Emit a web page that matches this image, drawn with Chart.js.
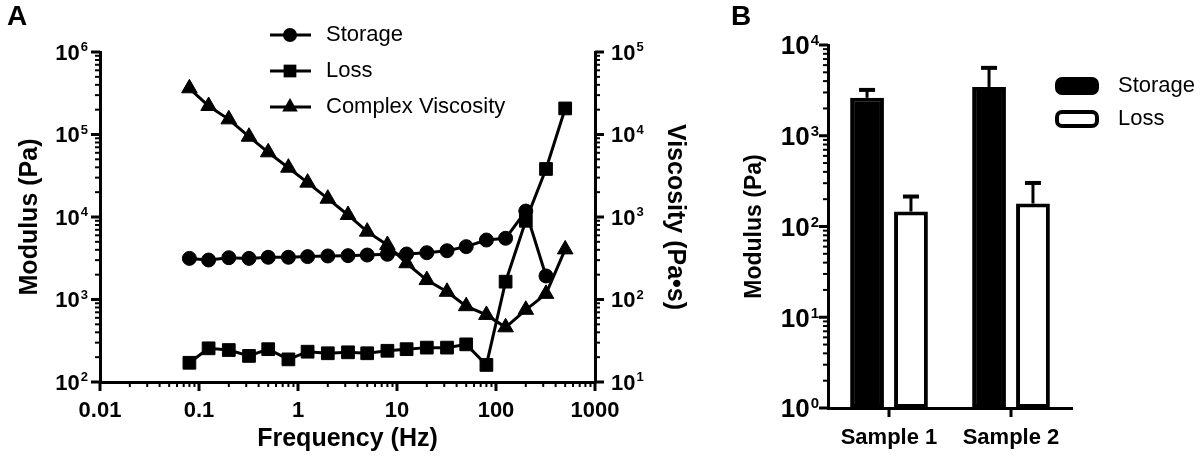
<!DOCTYPE html>
<html>
<head>
<meta charset="utf-8">
<script src="https://cdn.jsdelivr.net/npm/chart.js@4.4.0/dist/chart.umd.min.js"></script>
<style>
  body { margin: 0; background: #fff; width: 1200px; height: 457px; position: relative; overflow: hidden;
         font-family: 'Liberation Sans', Arial, Helvetica, sans-serif; }
  #wrapA { position: absolute; left: 0; top: 0; width: 720px; height: 457px; }
  #wrapB { position: absolute; left: 700px; top: 0; width: 500px; height: 457px; }
  .panel { position: absolute; font-weight: bold; font-size: 28px; line-height: 1; }
</style>
</head>
<body>
<div id="wrapA"><canvas id="chartA" width="720" height="457"></canvas></div>
<div id="wrapB"><canvas id="chartB" width="500" height="457"></canvas></div>
<div class="panel" style="left:7px; top:2px">A</div>
<div class="panel" style="left:731px; top:2px">B</div>
<script>
'use strict';

const FONT = "'Liberation Sans', Arial, Helvetica, sans-serif";

// Panel A - frequency sweep
const freqHz = [0.08, 0.125, 0.2, 0.32, 0.5, 0.8, 1.25, 2, 3.2, 5, 8, 12.5, 20, 32, 50, 80, 125, 200, 320, 500];
const storageModulus = [3150, 3010, 3210, 3150, 3250, 3250, 3310, 3370, 3400, 3460, 3530, 3560, 3690, 3900, 4370, 5260, 5520, 11800, 1930];
const lossModulus = [171, 256, 244, 207, 250, 188, 233, 223, 229, 223, 239, 250, 261, 261, 286, 161, 1645, 9000, 38200, 207000];
const complexViscosity = [36300, 22150, 15260, 9400, 6080, 3960, 2610, 1667, 1058, 664, 458, 275, 172, 124, 83, 65, 46, 75, 117, 405];
const freqTicks = [0.01, 0.1, 1, 10, 100, 1000];
const modulusTicks = [1e2, 1e3, 1e4, 1e5, 1e6];
const viscosityTicks = [1e1, 1e2, 1e3, 1e4, 1e5];

// Panel B - mean modulus per sample, with upper error (SD)
const samples = ['Sample 1', 'Sample 2'];
const storageMean = [2620, 3450];
const storageSD = [580, 2150];
const lossMean = [146, 179];
const lossSD = [68, 123];
const barTicks = [1, 10, 100, 1000, 10000];

Chart.defaults.color = '#000';
Chart.defaults.font.family = FONT;

function toPoints(values) {
  return values.map((v, i) => ({ x: freqHz[i], y: v }));
}
function onlyTicks(values) {
  return function (scale) { scale.ticks = values.map(v => ({ value: v })); };
}
function fixWidth(w) { return function (scale) { scale.width = w; }; }
function fixHeight(h) { return function (scale) { scale.height = h; }; }

const tickFont = { size: 22, weight: 'bold' };
const titleFont = { size: 25, weight: 'bold' };
const hiddenGrid = { display: false, drawTicks: true, tickLength: 8 };
const axisBorder = { display: true, color: '#000', width: 3 };

// tick marks: long at decades, short for the log minors
const axisTicks = {
  id: 'axisTicks',
  afterDraw(chart) {
    const ctx = chart.ctx;
    const area = chart.chartArea;
    ctx.save();
    ctx.strokeStyle = '#000';
    Object.values(chart.scales).forEach(function (scale) {
      const pos = scale.options.position;
      let marks = [];
      if (scale.type === 'logarithmic') {
        const lo = Math.round(Math.log10(scale.min));
        const hi = Math.round(Math.log10(scale.max));
        for (let e = lo; e <= hi; e++) {
          for (let m = 1; m <= 9; m++) {
            const v = m * Math.pow(10, e);
            if (v > scale.max * 1.001) break;
            marks.push({ p: scale.getPixelForValue(v), major: m === 1 });
          }
        }
      } else {
        scale.ticks.forEach((t, i) => marks.push({ p: scale.getPixelForTick(i), major: true }));
      }
      marks.forEach(function (mk) {
        const len = mk.major ? 9 : 5;
        ctx.lineWidth = mk.major ? 3 : 2;
        ctx.beginPath();
        if (pos === 'left') {
          ctx.moveTo(area.left, mk.p); ctx.lineTo(area.left - len, mk.p);
        } else if (pos === 'right') {
          ctx.moveTo(area.right, mk.p); ctx.lineTo(area.right + len, mk.p);
        } else {
          ctx.moveTo(mk.p, area.bottom); ctx.lineTo(mk.p, area.bottom + len);
        }
        ctx.stroke();
      });
    });
    ctx.restore();
  }
};

// "10" with a raised exponent, for the log y axes
const powLabels = {
  id: 'powLabels',
  afterDraw(chart, args, opts) {
    const ctx = chart.ctx;
    const area = chart.chartArea;
    ctx.save();
    ctx.fillStyle = '#000';
    Object.keys(opts.axes || {}).forEach(function (id) {
      const cfg = opts.axes[id];
      const scale = chart.scales[id];
      const bigFont = 'bold ' + cfg.big + 'px ' + FONT;
      const smallFont = 'bold ' + cfg.small + 'px ' + FONT;
      const capBig = cfg.big * 0.716;
      const capSmall = cfg.small * 0.716;
      scale.ticks.forEach(function (t) {
        const p = scale.getPixelForValue(t.value);
        const exp = String(Math.round(Math.log10(t.value)));
        ctx.font = bigFont;
        const wB = ctx.measureText('10').width;
        ctx.font = smallFont;
        const wE = ctx.measureText(exp).width;
        let x0;
        if (scale.options.position === 'right') {
          x0 = area.right + cfg.gap;
        } else {
          x0 = area.left - cfg.gap - wE - 1 - wB;
        }
        ctx.textBaseline = 'alphabetic';
        ctx.textAlign = 'left';
        ctx.font = bigFont;
        ctx.fillText('10', x0, p + capBig / 2);
        ctx.font = smallFont;
        ctx.fillText(exp, x0 + wB + 1, p - capBig / 2 - cfg.lift + capSmall);
      });
    });
    ctx.restore();
  }
};

function drawMarker(ctx, style, r, x, y) {
  ctx.beginPath();
  if (style === 'circle') {
    ctx.arc(x, y, r, 0, Math.PI * 2);
  } else if (style === 'rect') {
    const s = r * Math.SQRT1_2;
    ctx.rect(x - s, y - s, 2 * s, 2 * s);
  } else {
    ctx.moveTo(x, y - r);
    ctx.lineTo(x + 0.866 * r, y + 0.5 * r);
    ctx.lineTo(x - 0.866 * r, y + 0.5 * r);
    ctx.closePath();
  }
  ctx.fill();
}

// legend of panel A: line with marker then label
const lineLegend = {
  id: 'lineLegend',
  afterDraw(chart) {
    const ctx = chart.ctx;
    chart.data.datasets.forEach(function (ds, i) {
      const y = 35 + i * 36;
      ctx.save();
      ctx.strokeStyle = '#000';
      ctx.fillStyle = '#000';
      ctx.lineWidth = 3;
      ctx.beginPath();
      ctx.moveTo(270, y);
      ctx.lineTo(311, y);
      ctx.stroke();
      drawMarker(ctx, ds.pointStyle, ds.pointRadius, 290, y);
      ctx.font = '22px ' + FONT;
      ctx.textBaseline = 'middle';
      ctx.fillText(ds.label, 326, y);
      ctx.restore();
    });
  }
};

const lineStyle = { borderColor: '#000', backgroundColor: '#000', borderWidth: 3, pointBorderWidth: 1, tension: 0 };

const chartA = new Chart(document.getElementById('chartA'), {
  type: 'line',
  data: {
    datasets: [
      Object.assign({ label: 'Storage', data: toPoints(storageModulus), yAxisID: 'y', pointStyle: 'circle', pointRadius: 7 }, lineStyle),
      Object.assign({ label: 'Loss', data: toPoints(lossModulus), yAxisID: 'y', pointStyle: 'rect', pointRadius: 9 }, lineStyle),
      Object.assign({ label: 'Complex Viscosity', data: toPoints(complexViscosity), yAxisID: 'y2', pointStyle: 'triangle', pointRadius: 9 }, lineStyle)
    ]
  },
  options: {
    responsive: false,
    animation: false,
    layout: { padding: { top: 52, left: 0, right: 0, bottom: 0 } },
    plugins: {
      legend: { display: false },
      tooltip: { enabled: false },
      powLabels: { axes: { y: { big: 22, small: 13, gap: 12, lift: 2 }, y2: { big: 22, small: 13, gap: 16, lift: 2 } } }
    },
    scales: {
      x: {
        type: 'logarithmic', min: 0.01, max: 1000,
        afterBuildTicks: onlyTicks(freqTicks), afterFit: fixHeight(75),
        grid: hiddenGrid, border: axisBorder,
        ticks: { font: tickFont, padding: 8, maxRotation: 0, autoSkip: false, callback: v => String(v) },
        title: { display: true, text: 'Frequency (Hz)', font: titleFont, padding: { top: 0, bottom: 3 } }
      },
      y: {
        type: 'logarithmic', position: 'left', min: 100, max: 1e6,
        afterBuildTicks: onlyTicks(modulusTicks), afterFit: fixWidth(100),
        grid: hiddenGrid, border: axisBorder,
        ticks: { display: false },
        title: { display: true, text: 'Modulus (Pa)', font: titleFont, padding: { top: 15, bottom: 0 } }
      },
      y2: {
        type: 'logarithmic', position: 'right', min: 10, max: 1e5,
        afterBuildTicks: onlyTicks(viscosityTicks), afterFit: fixWidth(125),
        grid: hiddenGrid, border: axisBorder,
        ticks: { display: false },
        title: { display: true, text: 'Viscosity (Pa\u2022s)', font: titleFont, padding: { top: 30, bottom: 0 } }
      }
    }
  },
  plugins: [axisTicks, powLabels, lineLegend]
});

// upward error bars with a cap
const errorBars = {
  id: 'errorBars',
  afterDatasetsDraw(chart) {
    const ctx = chart.ctx;
    const yScale = chart.scales.y;
    const sds = [storageSD, lossSD];
    ctx.save();
    ctx.strokeStyle = '#000';
    chart.data.datasets.forEach(function (ds, i) {
      chart.getDatasetMeta(i).data.forEach(function (bar, j) {
        const top = yScale.getPixelForValue(ds.data[j] + sds[i][j]);
        ctx.lineWidth = 3;
        ctx.beginPath();
        ctx.moveTo(bar.x, bar.y);
        ctx.lineTo(bar.x, top);
        ctx.stroke();
        ctx.lineWidth = 4;
        ctx.beginPath();
        ctx.moveTo(bar.x - 8, top);
        ctx.lineTo(bar.x + 8, top);
        ctx.stroke();
      });
    });
    ctx.restore();
  }
};

// legend of panel B: rounded swatches
const boxLegend = {
  id: 'boxLegend',
  afterDraw(chart) {
    const ctx = chart.ctx;
    chart.data.datasets.forEach(function (ds, i) {
      const y = 86 + i * 33;
      ctx.save();
      ctx.beginPath();
      ctx.roundRect(357, y - 7, 40, 14, 5);
      ctx.fillStyle = ds.backgroundColor;
      ctx.fill();
      ctx.lineWidth = 4;
      ctx.strokeStyle = '#000';
      ctx.stroke();
      ctx.fillStyle = '#000';
      ctx.font = '22px ' + FONT;
      ctx.textBaseline = 'middle';
      ctx.fillText(ds.label, 418, y);
      ctx.restore();
    });
  }
};

const chartB = new Chart(document.getElementById('chartB'), {
  type: 'bar',
  data: {
    labels: samples,
    datasets: [
      { label: 'Storage', data: storageMean, backgroundColor: '#000', borderColor: '#000', borderWidth: 4, borderSkipped: false },
      { label: 'Loss', data: lossMean, backgroundColor: '#fff', borderColor: '#000', borderWidth: 4, borderSkipped: false }
    ]
  },
  options: {
    responsive: false,
    animation: false,
    categoryPercentage: 0.72,
    barPercentage: 0.77,
    layout: { padding: { top: 45, left: 0, right: 128, bottom: 0 } },
    plugins: {
      legend: { display: false },
      tooltip: { enabled: false },
      powLabels: { axes: { y: { big: 26, small: 15, gap: 9, lift: 1 } } }
    },
    scales: {
      x: {
        afterFit: fixHeight(49),
        grid: { display: false, drawTicks: true, tickLength: 9 }, border: axisBorder,
        ticks: { font: tickFont, padding: 8, maxRotation: 0 }
      },
      y: {
        type: 'logarithmic', min: 1, max: 10000,
        afterBuildTicks: onlyTicks(barTicks), afterFit: fixWidth(128),
        grid: hiddenGrid, border: axisBorder,
        ticks: { display: false },
        title: { display: true, text: 'Modulus (Pa)', font: { size: 23, weight: 'bold' }, padding: { top: 41, bottom: 0 } }
      }
    }
  },
  plugins: [axisTicks, powLabels, errorBars, boxLegend]
});
</script>
</body>
</html>
